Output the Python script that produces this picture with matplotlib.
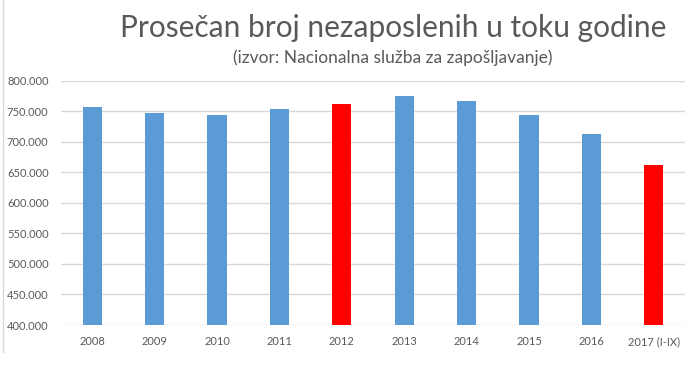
import matplotlib
matplotlib.use("Agg")
import matplotlib.pyplot as plt
from matplotlib.ticker import FuncFormatter, MultipleLocator

categories = ["2008", "2009", "2010", "2011", "2012", "2013", "2014", "2015", "2016", "2017 (I-IX)"]
values = [757000, 747000, 744000, 754000, 762000, 775000, 768000, 744000, 713000, 662000]
highlight = [False, False, False, False, True, False, False, False, False, True]

title = "Prosečan broj nezaposlenih u toku godine"
subtitle = "(izvor: Nacionalna služba za zapošljavanje)"

plt.rcParams['font.family'] = ['Lato', 'DejaVu Sans']

W, H = 697, 383
fig = plt.figure(figsize=(W / 100, H / 100), dpi=100)
ax = fig.add_axes([61 / W, 1 - 325 / H, (685 - 61) / W, (325 - 81) / H])

colors = ["#FF0000" if h else "#5B9BD5" for h in highlight]
x = range(len(categories))
ax.bar(x, values, width=0.31, color=colors, zorder=3)

ax.set_ylim(400000, 800000)
ax.set_xlim(-0.5, len(categories) - 0.5)
ax.yaxis.set_major_locator(MultipleLocator(50000))
ax.yaxis.set_major_formatter(FuncFormatter(lambda v, p: f"{int(v):,}".replace(",", ".")))
ax.grid(axis="y", color="#D9D9D9", linewidth=1, zorder=0)
for s in ax.spines.values():
    s.set_visible(False)
ax.tick_params(axis="both", length=0, labelsize=8, colors="#595959")
ax.tick_params(axis="y", pad=9)
ax.tick_params(axis="x", pad=8)
ax.set_xticks(list(x))
ax.set_xticklabels(categories)

fig.text(393 / W, 1 - 28 / H, title, ha="center", va="center", fontsize=21.5,
         color="#595959")
fig.text(393 / W, 1 - 58 / H, subtitle, ha="center", va="center", fontsize=12.5,
         color="#595959")

# chart border on the left
fig.add_artist(plt.Line2D([2.5 / W, 2.5 / W], [1 - 352 / H, 1.0], color="#D9D9D9", linewidth=1,
                          transform=fig.transFigure))

fig.savefig("out.png", dpi=100, facecolor="white")
